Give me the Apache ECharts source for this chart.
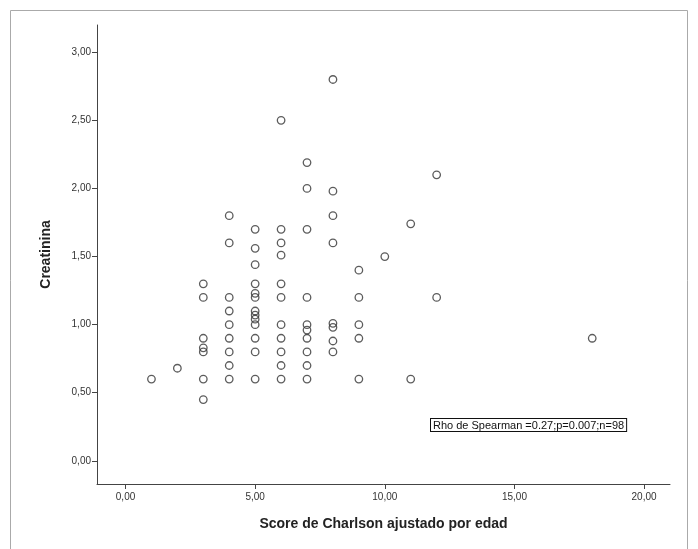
<!DOCTYPE html>
<html>
<head>
<meta charset="utf-8">
<script src="https://cdn.jsdelivr.net/npm/echarts@6/dist/echarts.min.js"></script>
<style>html,body{margin:0;padding:0;background:#fff}#c{width:698px;height:549px}</style>
</head>
<body>
<div id="c"></div>
<script>
// Charlson score (x) and creatinine (y) values
const charlson = [1, 2,
  3,3,3,3,3,3,3,
  4,4,4,4,4,4,4,4,4,
  5,5,5,5,5,5,5,5,5,5,5,5,5,
  6,6,6,6,6,6,6,6,6,6,6,
  7,7,7,7,7,7,7,7,7,7,
  8,8,8,8,8,8,8,8,
  9,9,9,9,9,
  10, 11,11, 12,12, 18];
const creatinina = [0.60, 0.68,
  1.30,1.20,0.90,0.83,0.80,0.60,0.45,
  1.80,1.60,1.20,1.10,1.00,0.90,0.80,0.70,0.60,
  1.70,1.56,1.44,1.30,1.23,1.20,1.10,1.07,1.04,1.00,0.90,0.80,0.60,
  2.50,1.70,1.60,1.51,1.30,1.20,1.00,0.90,0.80,0.70,0.60,
  2.19,2.00,1.70,1.20,1.00,0.96,0.90,0.80,0.70,0.60,
  2.80,1.98,1.80,1.60,1.01,0.98,0.88,0.80,
  1.40,1.20,1.00,0.90,0.60,
  1.50, 1.74,0.60, 2.10,1.20, 0.90];
const xTicks = [0, 5, 10, 15, 20];
const yTicks = [0, 0.5, 1, 1.5, 2, 2.5, 3];
const annotation = 'Rho de Spearman =0.27;p=0.007;n=98';

const points = charlson.map((x, i) => [x, creatinina[i]]);
const fmt = v => v.toFixed(2).replace('.', ',');
const chart = echarts.init(document.getElementById('c'));
chart.setOption({
  animation: false,
  backgroundColor: '#fff',
  grid: {left: 97, top: 25, right: 28, bottom: 65},
  xAxis: {
    type: 'value', min: -1.1, max: 21,
    name: 'Score de Charlson ajustado por edad',
    nameLocation: 'middle', nameGap: 33,
    nameTextStyle: {fontFamily: 'Liberation Sans', fontWeight: 'bold', fontSize: 14, color: '#222'},
    axisLine: {show: true, onZero: false, lineStyle: {color: '#444', width: 1}},
    axisTick: {show: true, length: 5, customValues: xTicks, lineStyle: {color: '#444'}},
    axisLabel: {customValues: xTicks, formatter: fmt, fontFamily: 'Liberation Sans', fontSize: 10, color: '#333', margin: 8},
    splitLine: {show: false}
  },
  yAxis: {
    type: 'value', min: -0.17, max: 3.2,
    name: 'Creatinina',
    nameLocation: 'middle', nameGap: 44, nameRotate: 90,
    nameTextStyle: {fontFamily: 'Liberation Sans', fontWeight: 'bold', fontSize: 14, color: '#222'},
    axisLine: {show: true, onZero: false, lineStyle: {color: '#444', width: 1}},
    axisTick: {show: true, length: 5, customValues: yTicks, lineStyle: {color: '#444'}},
    axisLabel: {customValues: yTicks, formatter: fmt, fontFamily: 'Liberation Sans', fontSize: 10, color: '#333', margin: 6},
    splitLine: {show: false}
  },
  series: [{
    type: 'scatter',
    data: points,
    symbol: 'circle',
    symbolSize: 7.5,
    itemStyle: {color: 'rgba(255,255,255,0)', borderColor: '#333', borderWidth: 1.3},
    emphasis: {disabled: true}
  }],
  graphic: [
    {type: 'rect', shape: {x: 10.5, y: 10.5, width: 677, height: 560}, style: {fill: 'none', stroke: '#aaa', lineWidth: 1}, silent: true},
    {type: 'text', left: 430, top: 418, style: {text: annotation, fontFamily: 'Liberation Sans', fontSize: 11, fill: '#111', backgroundColor: '#fff', borderColor: '#111', borderWidth: 1, padding: [1, 2, 0, 2]}}
  ]
});
</script>
</body>
</html>
